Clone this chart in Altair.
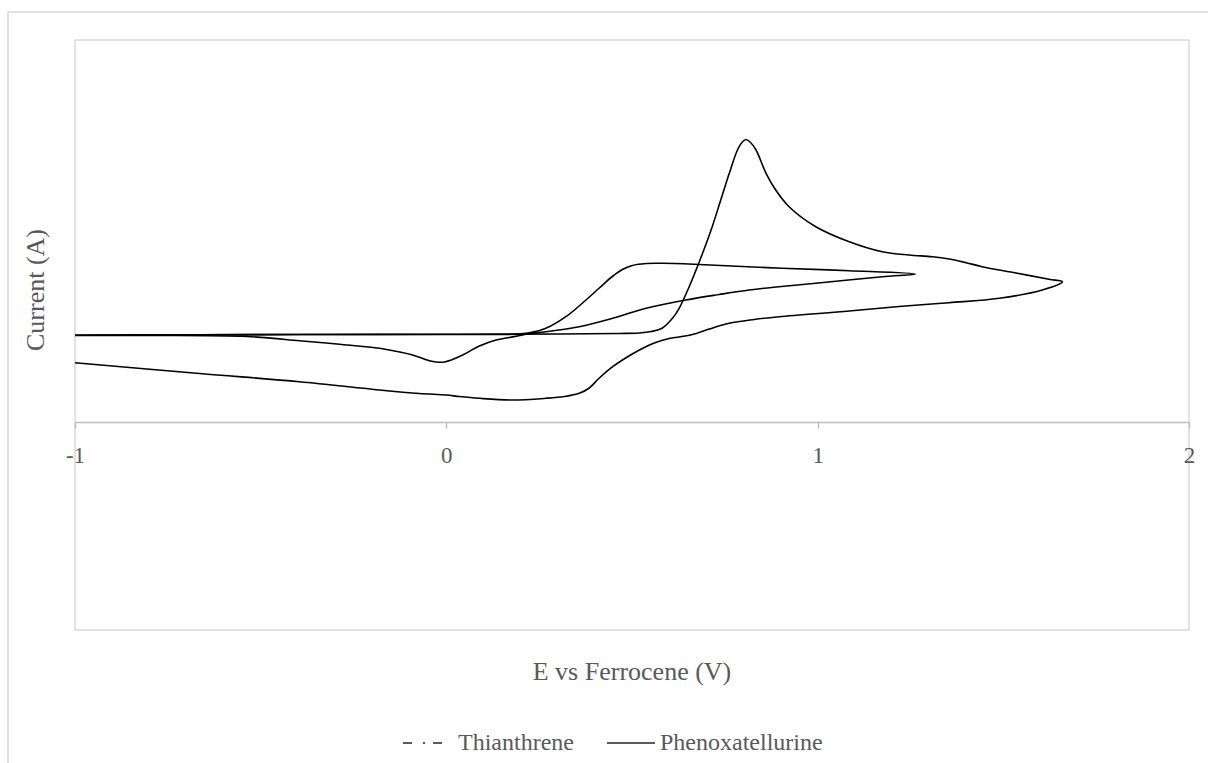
import altair as alt
import pandas as pd

# ---- data (E in V vs Fc, current in arbitrary units) ----
series_names = ["Thianthrene", "Phenoxatellurine"]

thia_E = [-1.000, -0.665, -0.396, 0.000, 0.304, 0.466, 0.520, 0.552, 0.581, 0.609,
          0.627, 0.654, 0.681, 0.713, 0.739, 0.762, 0.784, 0.797, 0.807, 0.818,
          0.834, 0.861, 0.887, 0.923, 0.995, 1.085, 1.174, 1.246, 1.309, 1.354,
          1.400, 1.443, 1.534, 1.623, 1.659,
          1.605, 1.489, 1.354, 1.219, 1.085, 0.896, 0.829, 0.762, 0.708, 0.663,
          0.627, 0.600, 0.560, 0.520, 0.485, 0.448, 0.412, 0.385, 0.358, 0.318,
          0.268, 0.178, 0.089, 0.035, 0.000, -0.073, -0.180, -0.396, -0.665, -1.000]
thia_I = [8.70, 8.72, 8.75, 8.77, 8.80, 8.85, 8.90, 9.05, 9.37, 10.37,
          11.37, 13.53, 16.0, 19.2, 22.2, 24.87, 27.2, 28.0, 28.25, 28.0,
          27.2, 24.87, 23.2, 21.53, 19.53, 18.03, 17.03, 16.7, 16.53, 16.3,
          15.93, 15.53, 14.9, 14.27, 14.03,
          13.2, 12.37, 11.93, 11.55, 11.1, 10.53, 10.25, 9.87, 9.3, 8.75,
          8.5, 8.35, 7.9, 7.2, 6.45, 5.53, 4.4, 3.4, 2.87, 2.55,
          2.37, 2.2, 2.37, 2.55, 2.7, 2.85, 3.2, 4.03, 4.85, 5.93]

phen_E = [-1.000, -0.396, 0.000, 0.143, 0.183, 0.223, 0.268, 0.322, 0.376, 0.412,
          0.447, 0.474, 0.501, 0.538, 0.582, 0.681, 0.904, 1.085, 1.264,
          1.174, 0.995, 0.896, 0.816, 0.735, 0.645, 0.538, 0.448, 0.358, 0.268,
          0.205, 0.170, 0.134, 0.089, 0.044, 0.013, -0.005, -0.027, -0.046, -0.091,
          -0.140, -0.180, -0.288, -0.396, -0.538, -0.799, -1.000]
phen_I = [8.65, 8.75, 8.75, 8.75, 8.77, 8.92, 9.37, 10.53, 12.2, 13.4,
          14.55, 15.25, 15.65, 15.85, 15.87, 15.75, 15.37, 15.13, 14.8,
          14.53, 13.87, 13.53, 13.2, 12.75, 12.2, 11.37, 10.37, 9.53, 9.03,
          8.7, 8.45, 8.2, 7.6, 6.7, 6.2, 6.0, 6.0, 6.13, 6.7,
          7.1, 7.37, 7.77, 8.13, 8.55, 8.65, 8.65]

x_ticks = [-1, 0, 1, 2]
x_title = "E vs Ferrocene (V)"
y_title = "Current (A)"

rows = []
for name, es, cs in [(series_names[0], thia_E, thia_I), (series_names[1], phen_E, phen_I)]:
    for i, (e, c) in enumerate(zip(es, cs)):
        rows.append({"series": name, "idx": i, "E": e, "I": c})
df = pd.DataFrame(rows)

W, H = 1114, 590
FONT = "Liberation Serif"
GREY = "#595959"

lines = alt.Chart(df).mark_line(
    interpolate="catmull-rom", color="black", strokeWidth=1.6
).encode(
    x=alt.X("E:Q",
            scale=alt.Scale(domain=[-1, 2], nice=False),
            axis=alt.Axis(values=x_ticks, offset=-208, title=None, grid=False,
                          domainColor="#bfbfbf", domainWidth=1.5,
                          tickColor="#bfbfbf", tickWidth=1.5, tickSize=6,
                          labelFont=FONT, labelFontSize=23, labelColor=GREY,
                          labelPadding=16, labelFlush=False, labelOverlap=False,
                          labelExpr="'' + datum.value")),
    y=alt.Y("I:Q", scale=alt.Scale(domain=[-20.8, 38.2], nice=False, zero=False), axis=None),
    detail="series:N",
    order="idx:Q",
)

one = pd.DataFrame({"k": [0]})

outer = alt.Chart(one).mark_rect(fillOpacity=0, stroke="#d9d9d9", strokeWidth=1.5).encode(
    x=alt.value(-67), y=alt.value(-28), x2=alt.value(1160), y2=alt.value(760)
)

xt = alt.Chart(pd.DataFrame({"t": [x_title]})).mark_text(
    font=FONT, fontSize=26, color=GREY, align="center", baseline="middle"
).encode(x=alt.value(557), y=alt.value(632), text="t:N")

yt = alt.Chart(pd.DataFrame({"t": [y_title]})).mark_text(
    font=FONT, fontSize=26, color=GREY, align="center", baseline="middle", angle=270
).encode(x=alt.value(-39), y=alt.value(250), text="t:N")

leg1_sym = alt.Chart(one).mark_rule(color="#262626", strokeWidth=1.6, strokeDash=[9, 11, 2, 8, 9]).encode(
    x=alt.value(328), x2=alt.value(367), y=alt.value(703)
)
leg1_txt = alt.Chart(pd.DataFrame({"t": [series_names[0]]})).mark_text(
    font=FONT, fontSize=24, color=GREY, align="left", baseline="middle"
).encode(x=alt.value(383), y=alt.value(703), text="t:N")

leg2_sym = alt.Chart(one).mark_rule(color="#262626", strokeWidth=1.6).encode(
    x=alt.value(532), x2=alt.value(580), y=alt.value(703)
)
leg2_txt = alt.Chart(pd.DataFrame({"t": [series_names[1]]})).mark_text(
    font=FONT, fontSize=24, color=GREY, align="left", baseline="middle"
).encode(x=alt.value(585), y=alt.value(703), text="t:N")

chart = alt.layer(outer, lines, xt, yt, leg1_sym, leg1_txt, leg2_sym, leg2_txt).properties(
    width=W, height=H,
    autosize=alt.AutoSizeParams(type="none"),
    padding={"left": 75, "top": 40, "right": 19, "bottom": 133},
    background="white",
).configure_view(stroke="#d9d9d9", strokeWidth=1.5)

chart.save("out.html", embed_options={"renderer": "svg", "actions": False})
